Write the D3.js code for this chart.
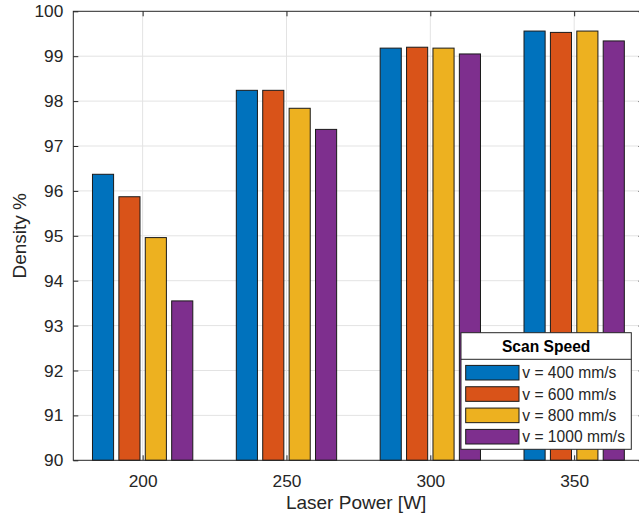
<!DOCTYPE html>
<html>
<head>
<meta charset="utf-8">
<script src="https://cdn.jsdelivr.net/npm/d3@7"></script>
<style>
  html, body { margin: 0; padding: 0; background: #fff; }
  svg { display: block; }
  text { font-family: "Liberation Sans", Arial, sans-serif; }
</style>
</head>
<body>
<svg id="chart" width="639" height="517"></svg>
<script>
const categories = [200, 250, 300, 350];
const seriesNames = ["v = 400 mm/s", "v = 600 mm/s", "v = 800 mm/s", "v = 1000 mm/s"];
const v400  = [96.37, 98.24, 99.18, 99.56];
const v600  = [95.87, 98.24, 99.20, 99.53];
const v800  = [94.96, 97.84, 99.18, 99.56];
const v1000 = [93.55, 97.37, 99.05, 99.34];
const seriesColors = ["#0072BD", "#D95319", "#EDB120", "#7E2F8E"];
const yTicks = [90, 91, 92, 93, 94, 95, 96, 97, 98, 99, 100];
const xTicks = [200, 250, 300, 350];
const legendTitle = "Scan Speed";
const xLabel = "Laser Power [W]";
const yLabel = "Density %";

const seriesValues = [v400, v600, v800, v1000];

const svg = d3.select("#chart");
const mLeft = 73.3, mTop = 11.3, mBottom = 460.3, mRight = 643.5;
const axisColor = "#262626";

const x = d3.scaleLinear().domain([175.9, 374.1]).range([mLeft, mRight]);
const y = d3.scaleLinear().domain([90, 100]).range([mBottom, mTop]);
const sub = d3.scaleBand().domain(d3.range(seriesNames.length))
  .range([-52.8, 52.8]).paddingInner(0.2).paddingOuter(0.1);

// grid
const grid = svg.append("g");
grid.selectAll("line.gy").data(yTicks.slice(1, -1)).join("line")
  .attr("x1", mLeft).attr("x2", mRight)
  .attr("y1", d => y(d)).attr("y2", d => y(d))
  .attr("stroke", "#e3e3e3").attr("stroke-width", 1);
grid.selectAll("line.gx").data(xTicks).join("line")
  .attr("x1", d => x(d)).attr("x2", d => x(d))
  .attr("y1", mTop).attr("y2", mBottom)
  .attr("stroke", "#e3e3e3").attr("stroke-width", 1);

// bars
const bars = svg.append("g");
seriesValues.forEach((vals, si) => {
  bars.selectAll("rect.s" + si).data(categories.map((c, i) => ({c, v: vals[i]}))).join("rect")
    .attr("class", "s" + si)
    .attr("x", d => x(d.c) + sub(si))
    .attr("width", sub.bandwidth())
    .attr("y", d => y(d.v))
    .attr("height", d => y(90) - y(d.v))
    .attr("fill", seriesColors[si])
    .attr("stroke", "#1a1a1a").attr("stroke-width", 1);
});

// axes box
svg.append("rect").attr("x", mLeft).attr("y", mTop)
  .attr("width", mRight - mLeft).attr("height", mBottom - mTop)
  .attr("fill", "none").attr("stroke", axisColor).attr("stroke-width", 1);

// y axis
const yAxis = d3.axisLeft(y).tickValues(yTicks).tickSizeInner(-5).tickSizeOuter(0).tickPadding(10);
const gy = svg.append("g").attr("transform", `translate(${mLeft},0)`).call(yAxis);
gy.select(".domain").remove();
gy.selectAll(".tick line").attr("stroke", axisColor);
gy.selectAll(".tick text").attr("fill", axisColor).style("font-size", "17.3px")
  .style("font-family", "'Liberation Sans', Arial, sans-serif");

// right ticks
const gyr = svg.append("g").attr("transform", `translate(${mRight},0)`)
  .call(d3.axisRight(y).tickValues(yTicks).tickSizeInner(-5).tickSizeOuter(0).tickFormat(""));
gyr.select(".domain").remove();
gyr.selectAll(".tick line").attr("stroke", axisColor);

// x axis bottom
const xAxis = d3.axisBottom(x).tickValues(xTicks).tickSizeInner(-5).tickSizeOuter(0).tickPadding(14);
const gx = svg.append("g").attr("transform", `translate(0,${mBottom})`).call(xAxis);
gx.select(".domain").remove();
gx.selectAll(".tick line").attr("stroke", axisColor);
gx.selectAll(".tick text").attr("fill", axisColor).style("font-size", "17.3px")
  .style("font-family", "'Liberation Sans', Arial, sans-serif");

// x axis top ticks
const gxt = svg.append("g").attr("transform", `translate(0,${mTop})`)
  .call(d3.axisTop(x).tickValues(xTicks).tickSizeInner(-5).tickSizeOuter(0).tickFormat(""));
gxt.select(".domain").remove();
gxt.selectAll(".tick line").attr("stroke", axisColor);

// labels
svg.append("text").attr("x", (mLeft + 640) / 2 - 0.5).attr("y", 509)
  .attr("text-anchor", "middle").attr("fill", axisColor).style("font-size", "19px")
  .text(xLabel);
svg.append("text").attr("transform", `translate(25.5,${(mTop + mBottom) / 2}) rotate(-90)`)
  .attr("text-anchor", "middle").attr("fill", axisColor).style("font-size", "19px")
  .text(yLabel);

// legend
const lg = svg.append("g");
const lx = 461, ly = 332.7, lw = 170.3, lh = 116.6;
lg.append("rect").attr("x", lx).attr("y", ly).attr("width", lw).attr("height", lh)
  .attr("fill", "#fff").attr("stroke", axisColor).attr("stroke-width", 1);
lg.append("line").attr("x1", lx).attr("x2", lx + lw).attr("y1", 359.3).attr("y2", 359.3)
  .attr("stroke", axisColor).attr("stroke-width", 1);
lg.append("text").attr("x", lx + lw / 2).attr("y", 352).attr("text-anchor", "middle")
  .attr("fill", "#000").style("font-size", "15.6px").style("font-weight", "bold").text(legendTitle);
const rowY = d3.scaleLinear().domain([0, 3]).range([372.7, 436.7]);
seriesNames.forEach((name, i) => {
  lg.append("rect").attr("x", 465.7).attr("y", rowY(i) - 7.3).attr("width", 53.3).attr("height", 14.6)
    .attr("fill", seriesColors[i]).attr("stroke", "#1a1a1a").attr("stroke-width", 1);
  lg.append("text").attr("x", 522.3).attr("y", rowY(i) + 5.6).attr("fill", axisColor)
    .style("font-size", "15.6px").text(name);
});
</script>
</body>
</html>
